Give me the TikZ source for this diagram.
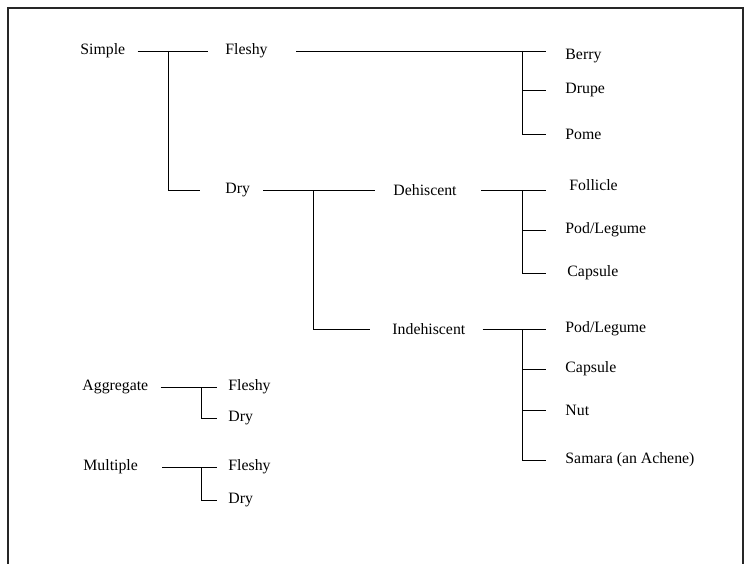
\documentclass[tikz,border=0pt]{standalone}
\usepackage{fontspec}
\setmainfont{Liberation Serif}
\tikzset{>=latex}
\usetikzlibrary{positioning}

\begin{document}
\begin{tikzpicture}[x=1pt,y=-1pt,line width=0.9pt,
    every node/.style={anchor=west,inner sep=0pt,font=\fontsize{15.8}{18}\selectfont}]
      \useasboundingbox (0,0) rectangle (746,564);
      \draw[line width=1.3pt,black!85] (8,564) -- (8,8) -- (743,8) -- (743,564);
      % simple fruits
      \node (simple) at (80,51) {Simple};
      \node (fleshy) at (225,51) {Fleshy};
      \node (dry) at (225,190) {Dry};
      \node (berry) at (565,56) {Berry};
      \node (drupe) at (565,90) {Drupe};
      \node (pome) at (565,134) {Pome};
      \node (dehisc) at (393,190) {Dehiscent};
      \node (follicle) at (569,185) {Follicle};
      \node (poda) at (565,230) {Pod/Legume};
      \node (capsa) at (567,273) {Capsule};
      \node (indehisc) at (392,329) {Indehiscent};
      \node (podb) at (565,329) {Pod/Legume};
      \node (capsb) at (565,369) {Capsule};
      \node (nut) at (565,410) {Nut};
      \node (samara) at (565,460) {Samara (an Achene)};
      % aggregate and multiple fruits
      \node (aggr) at (82,387) {Aggregate};
      \node (aggfleshy) at (228,387) {Fleshy};
      \node (aggdry) at (228,418) {Dry};
      \node (mult) at (83,467) {Multiple};
      \node (multfleshy) at (228,467) {Fleshy};
      \node (multdry) at (228,500) {Dry};
      \coordinate (j-simple) at (168,51);
      \coordinate (j-fleshy) at (522,51);
      \coordinate (j-dry) at (313,190);
      \coordinate (j-dehisc) at (522,190);
      \coordinate (j-indehisc) at (522,329);
      \coordinate (j-aggr) at (201,387);
      \coordinate (j-mult) at (201,467);
      \draw ([xshift=12pt]simple.east) -- ([xshift=-17pt]fleshy.west);
      \draw (j-simple) |- ([xshift=-25pt]dry.west);
      \draw ([xshift=28pt]fleshy.east) -- ([xshift=-19pt]berry.west |- fleshy.east);
      \draw (j-fleshy) |- ([xshift=-19pt]pome.west);
      \draw (j-fleshy |- drupe) -- ([xshift=-19pt]drupe.west);
      \draw ([xshift=13pt]dry.east) -- ([xshift=-18pt]dehisc.west);
      \draw (j-dry) |- ([xshift=-22pt]indehisc.west);
      \draw ([xshift=24pt]dehisc.east) -- ([xshift=-23pt]follicle.west |- dehisc.east);
      \draw (j-dehisc) |- ([xshift=-21pt]capsa.west);
      \draw (j-dehisc |- poda) -- ([xshift=-19pt]poda.west);
      \draw ([xshift=17pt]indehisc.east) -- ([xshift=-19pt]podb.west);
      \draw (j-indehisc) |- ([xshift=-19pt]samara.west);
      \foreach \n in {capsb,nut}
        \draw (j-indehisc |- \n) -- ([xshift=-19pt]\n.west);
      \draw ([xshift=12pt]aggr.east) -- ([xshift=-11pt]aggfleshy.west);
      \draw (j-aggr) |- ([xshift=-11pt]aggdry.west);
      \draw ([xshift=24pt]mult.east) -- ([xshift=-11pt]multfleshy.west);
      \draw (j-mult) |- ([xshift=-11pt]multdry.west);
    \end{tikzpicture}
\end{document}
